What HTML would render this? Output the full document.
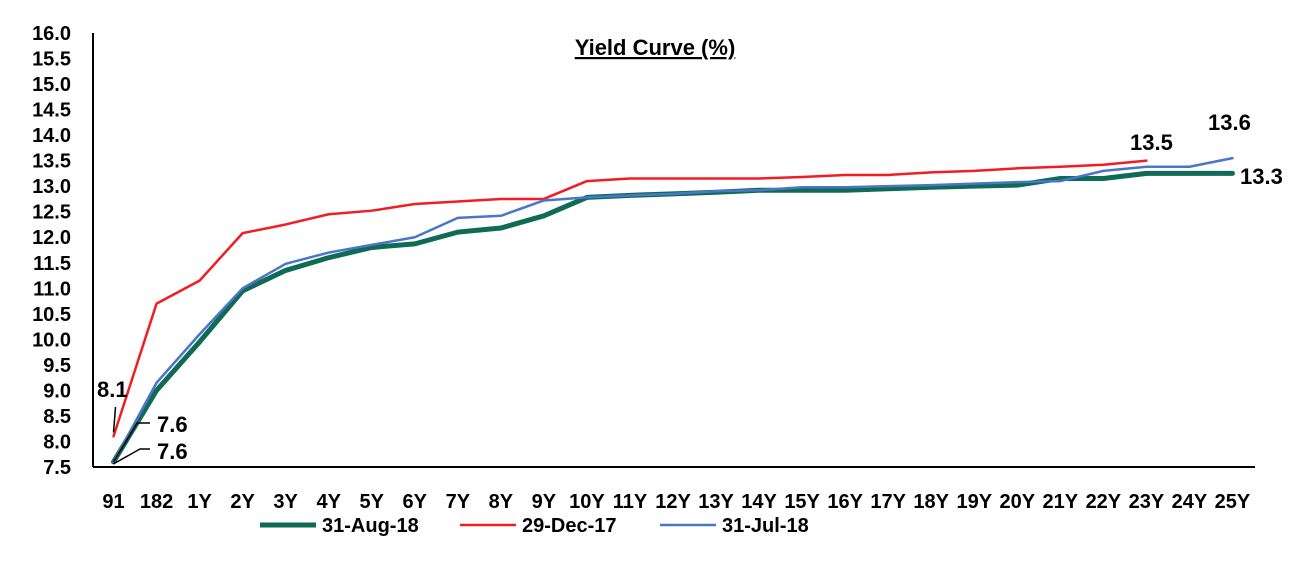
<!DOCTYPE html>
<html><head><meta charset="utf-8"><style>
body{margin:0;background:#fff;}
svg{display:block;font-family:"Liberation Sans",Arial,sans-serif;font-weight:bold;}
</style></head><body>
<svg id="chart" width="1300" height="564">
<text x="655" y="55" font-size="22" text-anchor="middle" text-decoration="underline">Yield Curve (%)</text>
<g id="axes"></g><g id="series"></g><g id="labels"></g>
</svg>
<script>
const categories=["91","182","1Y","2Y","3Y","4Y","5Y","6Y","7Y","8Y","9Y","10Y","11Y","12Y","13Y","14Y","15Y","16Y","17Y","18Y","19Y","20Y","21Y","22Y","23Y","24Y","25Y"];
const aug18=[7.6,9.0,9.95,10.95,11.35,11.6,11.8,11.87,12.1,12.18,12.42,12.78,12.82,12.85,12.88,12.92,12.92,12.92,12.95,12.98,13.0,13.02,13.15,13.15,13.25,13.25,13.25];
const dec17=[8.1,10.7,11.15,12.08,12.25,12.45,12.52,12.65,12.7,12.75,12.75,13.1,13.15,13.15,13.15,13.15,13.18,13.22,13.22,13.27,13.3,13.35,13.38,13.42,13.5];
const jul18=[7.6,9.15,10.1,11.0,11.48,11.7,11.85,12.0,12.38,12.42,12.72,12.78,12.82,12.85,12.9,12.92,12.98,12.98,13.0,13.02,13.05,13.08,13.1,13.3,13.38,13.38,13.55];
const yTicks=[7.5,8.0,8.5,9.0,9.5,10.0,10.5,11.0,11.5,12.0,12.5,13.0,13.5,14.0,14.5,15.0,15.5,16.0];
const NS="http://www.w3.org/2000/svg";
const L=93,R=1255,T=33,B=467;
const bw=(R-L)/categories.length;
function xs(i){return L+bw*(i+0.5)-1;}
function ys(v){return B-(v-7.5)/(16-7.5)*(B-T);}
function mk(tag,attrs,parent,text){const e=document.createElementNS(NS,tag);for(const k in attrs)e.setAttribute(k,attrs[k]);if(text!=null)e.textContent=text;parent.appendChild(e);return e;}
const ax=document.getElementById('axes'),sg=document.getElementById('series'),lg=document.getElementById('labels');
let a=mk('line',{x1:L,y1:T,x2:L,y2:B,stroke:'#000','stroke-width':2},ax);


a=mk('line',{x1:L,y1:B,x2:R,y2:B,stroke:'#000','stroke-width':2},ax);


yTicks.forEach(v=>{const t=mk('text',{x:71,y:ys(v)+7,'font-size':20,'text-anchor':'end'},ax,v.toFixed(1));

});
categories.forEach((c,i)=>{const t=mk('text',{x:xs(i),y:508,'font-size':20,'text-anchor':'middle'},ax,c);

});
function line(data,color,w,name){const p=data.map((v,i)=>xs(i)+','+ys(v)).join(' ');
const e=mk('polyline',{points:p,fill:'none',stroke:color,'stroke-width':w,'stroke-linejoin':'round','stroke-linecap':'round'},sg);

}
line(aug18,'#0f6b55',5,'series-31-aug-18');
line(dec17,'#f21d24',2.5,'series-29-dec-17');
line(jul18,'#4a76c9',2.5,'series-31-jul-18');
function lab(x,y,t,name){const e=mk('text',{x:x,y:y,'font-size':22},lg,t);

}
function lead(p,name){const e=mk('polyline',{points:p,fill:'none',stroke:'#000','stroke-width':1.5},lg);

}
lab(97,397,dec17[0].toFixed(1),'label-dec17-start');
lead(xs(0)+','+(ys(dec17[0])-4)+' '+(xs(0)+2)+',407','leader-dec17-start');
lab(157,432,jul18[0].toFixed(1),'label-jul18-start');
lead(xs(0)+','+ys(jul18[0])+' 137,423 150,423','leader-jul18-start');
lab(157,459,aug18[0].toFixed(1),'label-aug18-start');
lead(xs(0)+','+(ys(aug18[0])+2)+' 140,449 150,449','leader-aug18-start');
lab(1130,150,dec17[dec17.length-1].toFixed(1),'label-dec17-end');
lab(1208,130,jul18[jul18.length-1].toFixed(1),'label-jul18-end');
lab(1240,184,aug18[aug18.length-1].toFixed(1),'label-aug18-end');
const leg=[['31-Aug-18','#0f6b55',5,260],['29-Dec-17','#f21d24',2.5,460],['31-Jul-18','#4a76c9',2.5,660]];
leg.forEach(l=>{const g=mk('g',{},lg);


mk('line',{x1:l[3],y1:525,x2:l[3]+56,y2:525,stroke:l[1],'stroke-width':l[2]},g);
mk('text',{x:l[3]+62,y:532,'font-size':20},g,l[0]);});
</script>
</body></html>
